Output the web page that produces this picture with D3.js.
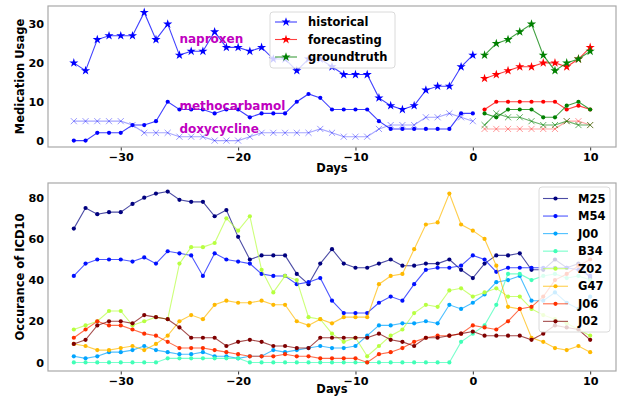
<!DOCTYPE html>
<html><head><meta charset="utf-8">
<script src="https://cdnjs.cloudflare.com/ajax/libs/d3/7.8.5/d3.min.js"></script>
<style>
html,body{margin:0;padding:0;background:#fff;}
svg{display:block;font-family:"DejaVu Sans",sans-serif;font-weight:bold;}
</style></head>
<body>
<svg id="chart" width="618" height="397"></svg>
<script>
// ---------- DATA ----------
const histDays = [-34,-33,-32,-31,-30,-29,-28,-27,-26,-25,-24,-23,-22,-21,-20,-19,-18,-17,-16,-15,-14,-13,-12,-11,-10,-9,-8,-7,-6,-5,-4,-3,-2,-1,0];
const futureDays = [1,2,3,4,5,6,7,8,9,10];
const allDays = [-34,-33,-32,-31,-30,-29,-28,-27,-26,-25,-24,-23,-22,-21,-20,-19,-18,-17,-16,-15,-14,-13,-12,-11,-10,-9,-8,-7,-6,-5,-4,-3,-2,-1,0,1,2,3,4,5,6,7,8,9,10];

const naproxenHist = [20,18,26,27,27,27,33,26,30,22,23,23,28,24,24,23,24,21,21,18,21,21,19,17,17,17,11,9,8,9,13,14,14,19,22];
const methoHist    = [0,0,2,2,2,4,4,5,10,8,8,8,7,8,8,6,7,7,7,10,12,11,8,8,8,8,5,3,3,3,3,3,3,7,7];
const doxyHist     = [5,5,5,5,5,4,2,2,2,1,1,1,0,0,0,1,2,2,2,2,2,3,2,1,1,1,3,4,4,4,6,6,7,6,5];

const naproxenFc = [16,17,18,19,19,20,20,19,21,24];
const methoFc    = [8,10,10,10,10,10,10,8,9,8];
const doxyFc     = [3,3,3,3,3,3,3,5,5,4];

const naproxenGt = [22,25,26,28,30,22,18,20,21,23];
const methoGt    = [7,6,8,8,8,6,6,9,10,8];
const doxyGt     = [4,7,6,6,5,4,4,5,4,4];

const drugNames = ["naproxen","methocarbamol","doxycycline"];
const legendTop = ["historical","forecasting","groundtruth"];

const icdCodes = ["M25","M54","J00","B34","Z02","G47","J06","J02"];
const M25 = [65,75,72,73,73,77,80,82,83,79,78,78,71,74,61,50,52,52,52,43,38,48,55,48,46,46,48,50,47,47,48,48,50,45,41,48,52,52,53,45,45,50,46,48,41];
const M54 = [42,48,50,50,50,49,51,48,54,53,52,42,53,50,49,48,43,42,42,38,39,41,30,24,24,24,29,32,30,38,45,46,46,47,52,50,44,46,46,46,46,46,46,45,42];
const J00 = [3,2,3,5,5,6,8,6,5,4,4,5,3,3,2,3,3,6,5,6,7,8,7,7,8,13,18,18,19,19,20,19,28,26,29,33,39,40,42,30,30,34,29,26,32];
const B34 = [0,0,0,0,0,0,0,0,2,2,2,2,2,2,2,0,0,0,0,0,0,0,0,0,0,0,0,0,0,0,0,0,0,10,14,18,28,43,43,40,42,43,41,42,40];
const Z02 = [16,18,20,25,25,18,20,22,21,48,56,56,58,70,64,71,45,34,42,40,22,21,14,10,12,3,8,13,16,24,28,27,35,36,32,34,36,32,32,26,23,21,19,16,13];
const G47 = [9,8,6,6,7,8,6,9,13,20,23,21,28,30,29,29,30,28,28,20,18,21,19,22,22,22,38,42,43,55,67,68,82,67,64,60,47,27,26,12,10,7,6,8,5];
const J06 = [12,16,20,18,18,16,14,13,10,7,7,7,6,5,4,3,3,3,4,3,3,2,2,2,2,0,4,5,7,10,12,13,13,14,18,17,16,20,26,27,32,40,43,47,50];
const J02 = [9,11,18,20,20,19,23,22,21,17,12,12,12,8,10,11,10,8,8,7,7,12,12,12,12,12,14,11,10,8,12,12,13,14,15,13,13,13,13,11,14,18,17,16,11];

const xTicks = [-30,-20,-10,0,10];
const yTicksTop = [0,10,20,30];
const yTicksBottom = [0,20,40,60,80];

// ---------- DRAW ----------
const svg = d3.select("#chart");
const L = 48, R = 616;
const x = d3.scaleLinear().domain([-36.2, 12.2]).range([L, R]);
const yT = d3.scaleLinear().domain([-1.65, 34.65]).range([147, 6]);
const yB = d3.scaleLinear().domain([-4.15, 87.15]).range([371, 183]);
const FS = 11.5, TFS = 11.2;

function axes(y, top, bottom, yticks, ylabel, labelOffset) {
  const gx = svg.append("g").attr("transform", `translate(0,${bottom})`)
    .call(d3.axisBottom(x).tickValues(xTicks).tickSize(3.5).tickSizeOuter(0).tickPadding(3));
  gx.select(".domain").remove();
  gx.selectAll("line").attr("stroke", "#333");
  gx.selectAll("text").attr("font-size", TFS).attr("font-weight", "bold").attr("fill", "#000")
    .attr("font-family", "DejaVu Sans");
  const gy = svg.append("g").attr("transform", `translate(${L},0)`)
    .call(d3.axisLeft(y).tickValues(yticks).tickSize(0).tickSizeOuter(0).tickPadding(4));
  gy.select(".domain").remove();
  gy.selectAll("text").attr("font-size", TFS).attr("font-weight", "bold").attr("fill", "#000")
    .attr("font-family", "DejaVu Sans");
  svg.append("rect").attr("x", L).attr("y", top).attr("width", R - L).attr("height", bottom - top)
    .attr("fill", "none").attr("stroke", "#a8a8a8").attr("stroke-width", 1.2);
  svg.append("text").attr("x", (L + R) / 2).attr("y", bottom + labelOffset).attr("text-anchor", "middle")
    .attr("font-size", FS).text("Days");
  svg.append("text").attr("transform", `translate(24,${(top + bottom) / 2}) rotate(-90)`)
    .attr("text-anchor", "middle").attr("font-size", FS).text(ylabel);
}

axes(yT, 6, 147, yTicksTop, "Medication Usage", 25);
axes(yB, 183, 371, yTicksBottom, "Occurance of ICD10", 22);

function series(days, vals, y, color, marker, opacity, lineOpacity) {
  const pts = days.map((d, i) => [d, vals[i]]);
  const g = svg.append("g");
  g.append("path").datum(pts)
    .attr("d", d3.line().x(d => x(d[0])).y(d => y(d[1])))
    .attr("fill", "none").attr("stroke", color).attr("stroke-width", 1.1)
    .attr("stroke-opacity", lineOpacity);
  if (marker === "dot") {
    g.selectAll("circle").data(pts).join("circle")
      .attr("cx", d => x(d[0])).attr("cy", d => y(d[1])).attr("r", 2.1)
      .attr("fill", color).attr("fill-opacity", opacity);
  } else if (marker === "star") {
    g.selectAll("path.m").data(pts).join("path").attr("class", "m")
      .attr("transform", d => `translate(${x(d[0])},${y(d[1])})`)
      .attr("d", d3.symbol(d3.symbolStar, 26)())
      .attr("fill", color).attr("fill-opacity", opacity);
  } else if (marker === "x") {
    g.selectAll("path.m").data(pts).join("path").attr("class", "m")
      .attr("transform", d => `translate(${x(d[0])},${y(d[1])})`)
      .attr("d", d3.symbol(d3.symbolX, 26)())
      .attr("fill", "none").attr("stroke", color).attr("stroke-width", 1)
      .attr("stroke-opacity", opacity);
  }
}

// top chart
const BLUE = "#0000ff", RED = "#ff0000", GREEN = "#008000";
series(histDays, doxyHist, yT, BLUE, "x", 0.4, 0.35);
series(histDays, methoHist, yT, BLUE, "dot", 1, 0.75);
series(histDays, naproxenHist, yT, BLUE, "star", 1, 0.75);
series(futureDays, doxyFc, yT, RED, "x", 0.4, 0.35);
series(futureDays, methoFc, yT, RED, "dot", 1, 0.75);
series(futureDays, naproxenFc, yT, RED, "star", 1, 0.75);
series(futureDays, doxyGt, yT, GREEN, "x", 0.6, 0.6);
series(futureDays, methoGt, yT, GREEN, "dot", 1, 0.75);
series(futureDays, naproxenGt, yT, GREEN, "star", 1, 0.75);

// drug labels
const labelY = [25, 8, 2];
drugNames.forEach((n, i) => {
  svg.append("text").attr("x", x(-25)).attr("y", yT(labelY[i]))
    .attr("font-size", 12).attr("fill", "#bf00bf").text(n);
});

// top legend
(function () {
  const g = svg.append("g");
  g.append("rect").attr("x", 270).attr("y", 12).attr("width", 125).attr("height", 56).attr("rx", 3)
    .attr("fill", "#fff").attr("fill-opacity", 0.8).attr("stroke", "#d0d0d0").attr("stroke-width", 0.8);
  const cols = [BLUE, RED, GREEN];
  legendTop.forEach((t, i) => {
    const yy = 22 + i * 17.5;
    g.append("line").attr("x1", 275).attr("x2", 297).attr("y1", yy).attr("y2", yy)
      .attr("stroke", cols[i]).attr("stroke-opacity", 0.75).attr("stroke-width", 1.1);
    g.append("path").attr("transform", `translate(286,${yy})`).attr("d", d3.symbol(d3.symbolStar, 26)())
      .attr("fill", cols[i]);
    g.append("text").attr("x", 308).attr("y", yy + 4).attr("font-size", FS).text(t);
  });
})();

// bottom chart
const icdValues = [M25, M54, J00, B34, Z02, G47, J06, J02];
const jet = ["#00007f", "#0010ff", "#00a4ff", "#40ffb7", "#b7ff40", "#ffb900", "#ff3000", "#7f0000"];
icdValues.forEach((v, i) => series(allDays, v, yB, jet[i], "dot", 1, 0.7));

(function () {
  const g = svg.append("g");
  g.append("rect").attr("x", 539).attr("y", 187).attr("width", 71).attr("height", 145).attr("rx", 3)
    .attr("fill", "#fff").attr("fill-opacity", 0.8).attr("stroke", "#d0d0d0").attr("stroke-width", 0.8);
  icdCodes.forEach((c, i) => {
    const yy = 198.5 + i * 17.55;
    g.append("line").attr("x1", 543).attr("x2", 568).attr("y1", yy).attr("y2", yy)
      .attr("stroke", jet[i]).attr("stroke-opacity", 0.7).attr("stroke-width", 1.1);
    g.append("circle").attr("cx", 555.5).attr("cy", yy).attr("r", 2.1).attr("fill", jet[i]);
    g.append("text").attr("x", 578).attr("y", yy + 4).attr("font-size", FS).text(c);
  });
})();
</script>
</body></html>
